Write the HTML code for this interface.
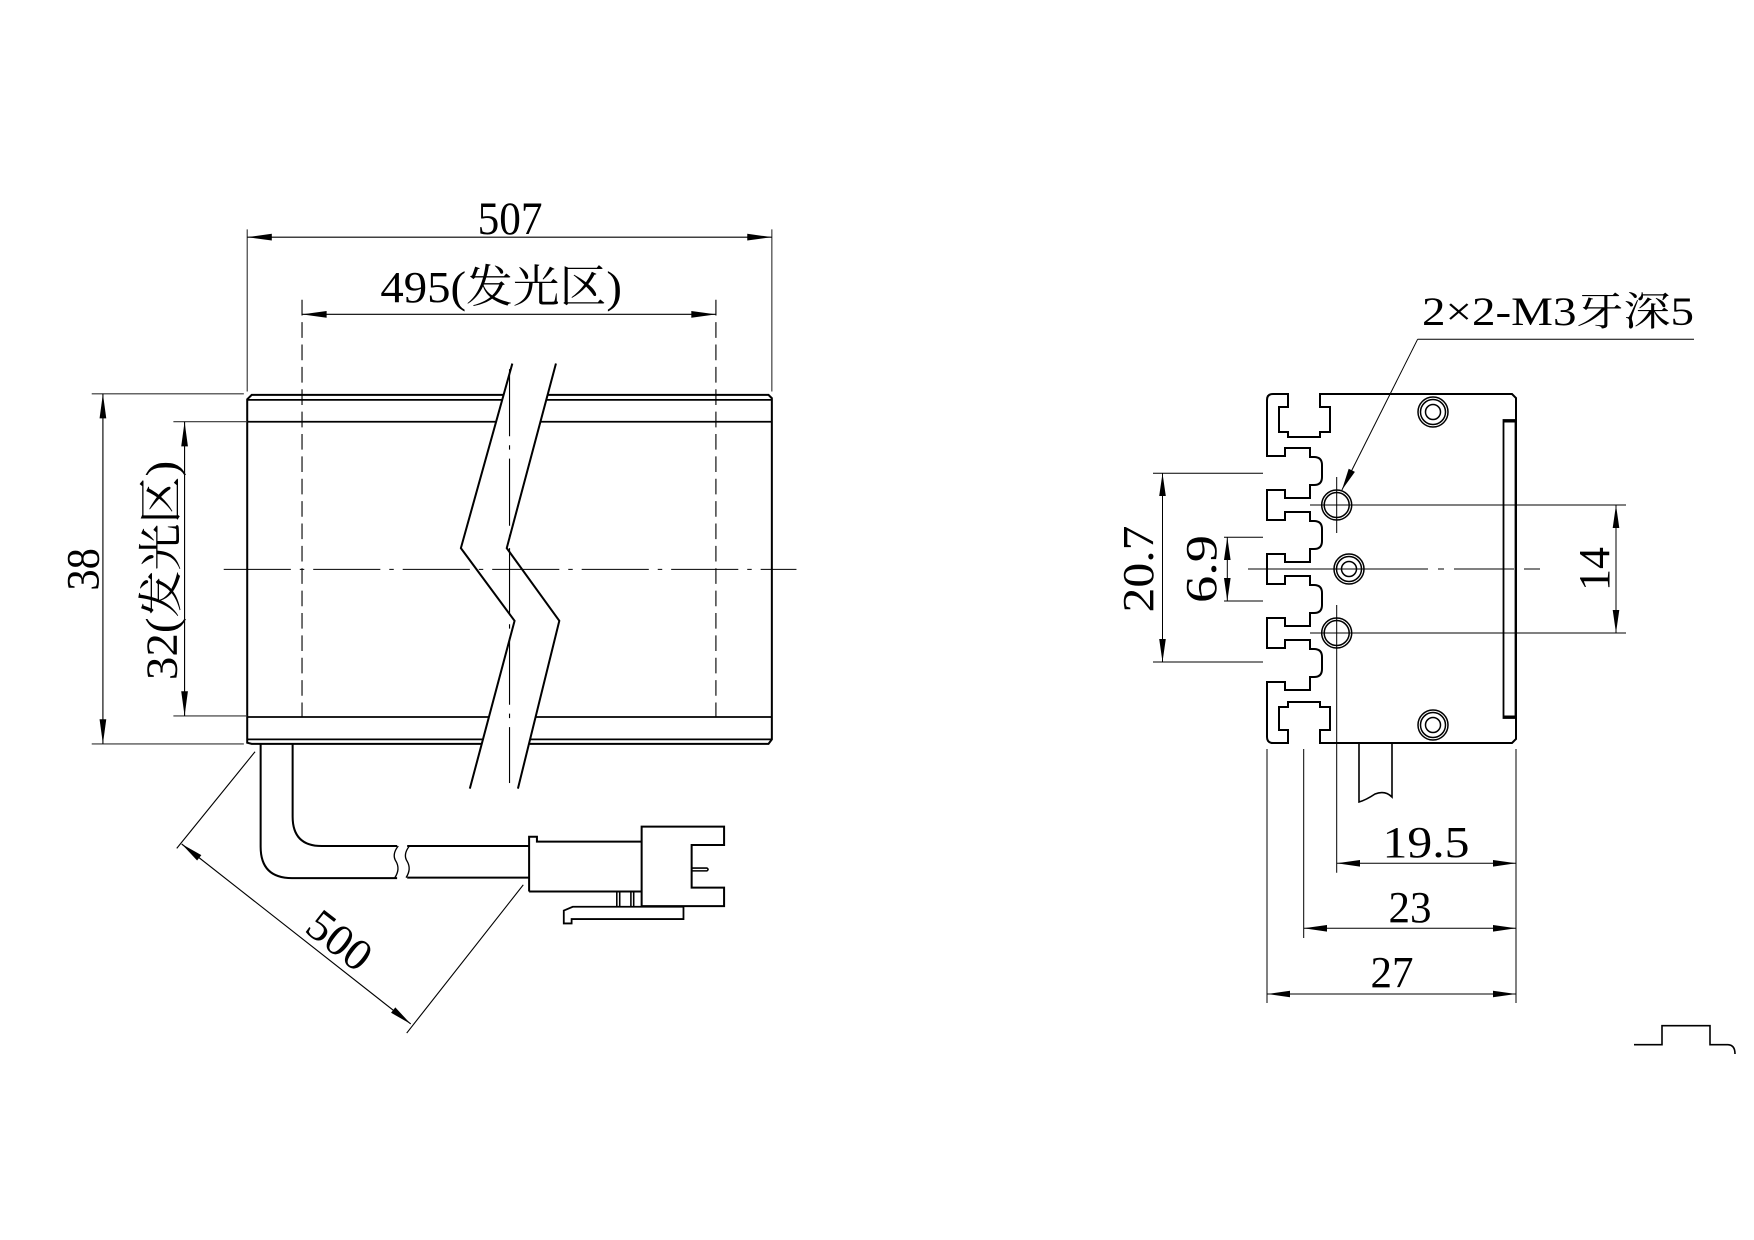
<!DOCTYPE html>
<html><head><meta charset="utf-8"><style>
html,body{margin:0;padding:0;background:#fff;}
svg{display:block;}
text{font-family:"Liberation Serif","Noto Serif CJK SC",serif;fill:#000;}
</style></head><body>
<svg width="1754" height="1240" viewBox="0 0 1754 1240" xmlns="http://www.w3.org/2000/svg">
<rect width="1754" height="1240" fill="#fff"/>
<!-- LEFT VIEW (display coords scaled) -->
<g transform="scale(1.11862)" fill="none" stroke="#000">
  <!-- body -->
  <path d="M221,664 V357 L225,353 H687 L690,356 V661 L687,665 H225 Z" stroke-width="1.8"/>
  <line x1="221" y1="357.5" x2="690" y2="357.5" stroke-width="1.6"/>
  <line x1="221" y1="377" x2="690" y2="377" stroke-width="1.6"/>
  <line x1="221" y1="641" x2="690" y2="641" stroke-width="1.6"/>
  <line x1="221" y1="661" x2="690" y2="661" stroke-width="1.6"/>
  <!-- dashed hidden lines -->
  <line x1="270" y1="268" x2="270" y2="641" stroke-width="1" stroke-dasharray="14,6"/>
  <line x1="640" y1="268" x2="640" y2="641" stroke-width="1" stroke-dasharray="14,6"/>
  <!-- break gap -->
  <polygon points="458,325 412,490 460,555 420,705 463,705 500,555 453,490 497,325" fill="#fff" stroke="none"/>
  <polyline points="458,325 412,490 460,555 420,705" stroke-width="1.8"/>
  <polyline points="497,325 453,490 500,555 463,705" stroke-width="1.8"/>
  <line x1="455.5" y1="330" x2="455.5" y2="700" stroke-width="1" stroke-dasharray="60,8,4,8"/>
  <!-- centerline -->
  <line x1="200" y1="509" x2="712" y2="509" stroke-width="1" stroke-dasharray="60,8,4,8"/>
  <!-- extension lines -->
  <g stroke-width="1" stroke="#333">
    <line x1="221" y1="205" x2="221" y2="350"/>
    <line x1="690" y1="205" x2="690" y2="350"/>
    <line x1="82" y1="352" x2="218" y2="352"/>
    <line x1="82" y1="665" x2="218" y2="665"/>
    <line x1="155" y1="377" x2="221" y2="377"/>
    <line x1="155" y1="640" x2="221" y2="640"/>
  </g>
  <!-- dims -->
  <g stroke-width="1">
    <line x1="221" y1="212" x2="690" y2="212"/>
    <line x1="270" y1="281" x2="640" y2="281"/>
    <line x1="92" y1="352" x2="92" y2="665"/>
    <line x1="165" y1="377" x2="165" y2="640"/>
    <line x1="162.4" y1="754.5" x2="367.2" y2="915.4"/>
    <line x1="228" y1="672" x2="158" y2="758.4"/>
    <line x1="467.8" y1="791" x2="363.6" y2="923.5"/>
  </g>
  <g fill="#000" stroke="none">
    <polygon points="221,212 243,209 243,215"/><polygon points="690,212 668,209 668,215"/>
    <polygon points="270,281 292,278 292,284"/><polygon points="640,281 618,278 618,284"/>
    <polygon points="92,352 89,374 95,374"/><polygon points="92,665 89,643 95,643"/>
    <polygon points="165,377 162,399 168,399"/><polygon points="165,640 162,618 168,618"/>
    <polygon points="162.4,754.5 176.2,769.3 180,764.5"/><polygon points="367.2,915.4 349.6,905.4 353.4,900.6"/>
  </g>
  <!-- cable -->
  <path d="M233,665 V757 Q233,785 261,785 H355" stroke-width="1.8"/>
  <path d="M261.6,665 V730 Q261.6,756.3 287.6,756.3 H355" stroke-width="1.8"/>
  <path d="M356,756.3 Q350,764 354,770 Q358,777 353,784.6" stroke-width="1.2"/>
  <path d="M366,756.3 Q360,764 364,770 Q368,777 363,784.6" stroke-width="1.2"/>
  <line x1="364" y1="756.3" x2="473" y2="756.3" stroke-width="1.8"/>
  <line x1="364" y1="784.6" x2="473" y2="784.6" stroke-width="1.8"/>
  <!-- connector -->
  <path d="M473,797 V748 H480 V752.4 H573.6 M473,797 H573.6" stroke-width="1.8"/>
  <path d="M573.6,739 H647.3 V755.4 H618.3 V793.5 H647.3 V810 H573.6 Z" stroke-width="1.8"/>
  <path d="M618.3,776 H632 Q634,777.2 632,778.5 H618.3" stroke-width="1.4"/>
  <path d="M551.4,797 V810 M554,797 V810 M564,797 V810 M566.5,797 V810" stroke-width="1.4"/>
  <path d="M504,825.5 V814 L512,810.6 H611 V821.6 H511 V825.5 Z" stroke-width="1.6"/>
  <!-- texts -->
</g>
<g transform="scale(1.11862)">
  <text x="456" y="209" font-size="42" text-anchor="middle" textLength="58" lengthAdjust="spacingAndGlyphs">507</text>
  <text x="448" y="270" font-size="40" text-anchor="middle" textLength="216" lengthAdjust="spacingAndGlyphs">495(发光区)</text>
  <text transform="translate(88,509) rotate(-90)" font-size="42" text-anchor="middle" textLength="38" lengthAdjust="spacingAndGlyphs">38</text>
  <text transform="translate(158,510) rotate(-90)" font-size="40" text-anchor="middle" textLength="196" lengthAdjust="spacingAndGlyphs">32(发光区)</text>
  <text transform="translate(304,840) rotate(38)" font-size="40" text-anchor="middle" dy="14" textLength="62" lengthAdjust="spacingAndGlyphs">500</text>
</g>

<!-- RIGHT VIEW (real coords) -->
<g fill="none" stroke="#000">
  <!-- profile main outline -->
  <path d="M1273,394 H1288 V407 H1279 V432 H1288 V437 H1320 V432 H1330 V407 H1320 V394 H1512 L1516,398 V739 L1512,743 H1320 V730 H1330 V707 H1320 V702 H1288 V707 H1279 V730 H1288 V743 H1273" stroke-width="2"/>
  <path d="M1273,394 Q1267,394 1267,400 V456
    H1285 V448 H1310 V457 H1314 Q1322,457 1322,465 V477 Q1322,485 1314,485 H1310 V498 H1285 V490 H1267 V520
    H1285 V512 H1310 V521 H1314 Q1322,521 1322,529 V541 Q1322,549 1314,549 H1310 V562 H1285 V554 H1267 V584
    H1285 V576 H1310 V585 H1314 Q1322,585 1322,593 V605 Q1322,613 1314,613 H1310 V626 H1285 V618 H1267 V648
    H1285 V640 H1310 V649 H1314 Q1322,649 1322,657 V669 Q1322,677 1314,677 H1310 V690 H1285 V682 H1267 V737 Q1267,743 1273,743" stroke-width="2"/>
  <!-- rail -->
  <rect x="1503.5" y="420" width="12" height="298" stroke-width="1.8"/>
  <line x1="1503.5" y1="421" x2="1515.5" y2="421" stroke-width="3"/>
  <line x1="1503.5" y1="717" x2="1515.5" y2="717" stroke-width="3"/>
  <!-- holes -->
  <g stroke-width="1.5">
    <circle cx="1433" cy="412" r="15"/><circle cx="1433" cy="412" r="12.5"/><circle cx="1433" cy="412" r="7.5"/>
    <circle cx="1433" cy="725" r="15"/><circle cx="1433" cy="725" r="12.5"/><circle cx="1433" cy="725" r="7.5"/>
    <circle cx="1349" cy="569" r="15"/><circle cx="1349" cy="569" r="12.5"/><circle cx="1349" cy="569" r="7.5"/>
    <circle cx="1336.7" cy="505" r="15"/><circle cx="1336.7" cy="505" r="12.5"/>
    <circle cx="1336.7" cy="633" r="15"/><circle cx="1336.7" cy="633" r="12.5"/>
  </g>
  <!-- crosshairs / center lines -->
  <g stroke-width="1">
    <line x1="1336.7" y1="477" x2="1336.7" y2="533"/>
    <line x1="1336.7" y1="605" x2="1336.7" y2="872.7"/>
    <line x1="1310" y1="505" x2="1626" y2="505"/>
    <line x1="1310" y1="633" x2="1626" y2="633"/>
    <line x1="1248" y1="569" x2="1540" y2="569" stroke-dasharray="180,10,6,10,60,10"/>
    <!-- ext lines -->
    <line x1="1267" y1="749" x2="1267" y2="1003"/>
    <line x1="1303.7" y1="749" x2="1303.7" y2="938"/>
    <line x1="1516" y1="749" x2="1516" y2="1003"/>
    <line x1="1153" y1="473.3" x2="1263" y2="473.3"/>
    <line x1="1153" y1="662" x2="1263" y2="662"/>
    <line x1="1224" y1="537.3" x2="1263" y2="537.3"/>
    <line x1="1224" y1="601" x2="1263" y2="601"/>
    <!-- dim lines -->
    <line x1="1336.7" y1="863.3" x2="1516" y2="863.3"/>
    <line x1="1303.7" y1="928.3" x2="1516" y2="928.3"/>
    <line x1="1267" y1="994" x2="1516" y2="994"/>
    <line x1="1162.5" y1="473.3" x2="1162.5" y2="662"/>
    <line x1="1227.3" y1="537.3" x2="1227.3" y2="601"/>
    <line x1="1616" y1="505" x2="1616" y2="633"/>
    <!-- leader -->
    <line x1="1417.6" y1="339.3" x2="1341.9" y2="490"/>
    <line x1="1417.6" y1="339.3" x2="1694" y2="339.3"/>
  </g>
  <!-- cable stub -->
  <path d="M1359,743 V802 Q1366,800 1375,794 Q1385,790 1392,797 V743" stroke-width="1.6"/>
  <!-- step symbol -->
  <path d="M1634,1044.7 H1662 V1025.7 H1710 V1044.7 H1728 Q1735,1045 1735,1054" stroke-width="1.6"/>
</g>
<g fill="#000">
  <polygon points="1336.7,863.3 1360,860 1360,866.6"/><polygon points="1516,863.3 1493,860 1493,866.6"/>
  <polygon points="1303.7,928.3 1327,925 1327,931.6"/><polygon points="1516,928.3 1493,925 1493,931.6"/>
  <polygon points="1267,994 1290,990.7 1290,997.3"/><polygon points="1516,994 1493,990.7 1493,997.3"/>
  <polygon points="1162.5,473.3 1159.2,496 1165.8,496"/><polygon points="1162.5,662 1159.2,639 1165.8,639"/>
  <polygon points="1227.3,537.3 1224,560 1230.6,560"/><polygon points="1227.3,601 1224,578 1230.6,578"/>
  <polygon points="1616,505 1612.7,528 1619.3,528"/><polygon points="1616,633 1612.7,610 1619.3,610"/>
  <polygon points="1341.9,490 1354.9,471.9 1348.7,468.7"/>
</g>
<text x="1558" y="325" font-size="40" text-anchor="middle" textLength="272" lengthAdjust="spacingAndGlyphs">2×2-M3牙深5</text>
<text x="1426" y="857" font-size="44" text-anchor="middle" textLength="87" lengthAdjust="spacingAndGlyphs">19.5</text>
<text x="1410" y="922" font-size="44" text-anchor="middle" textLength="43" lengthAdjust="spacingAndGlyphs">23</text>
<text x="1392" y="987" font-size="44" text-anchor="middle" textLength="43" lengthAdjust="spacingAndGlyphs">27</text>
<text transform="translate(1153,569) rotate(-90)" font-size="44" text-anchor="middle" textLength="87" lengthAdjust="spacingAndGlyphs">20.7</text>
<text transform="translate(1216,569) rotate(-90)" font-size="44" text-anchor="middle" textLength="68" lengthAdjust="spacingAndGlyphs">6.9</text>
<text transform="translate(1609,569) rotate(-90)" font-size="44" text-anchor="middle" textLength="44" lengthAdjust="spacingAndGlyphs">14</text>
</svg>
</body></html>
